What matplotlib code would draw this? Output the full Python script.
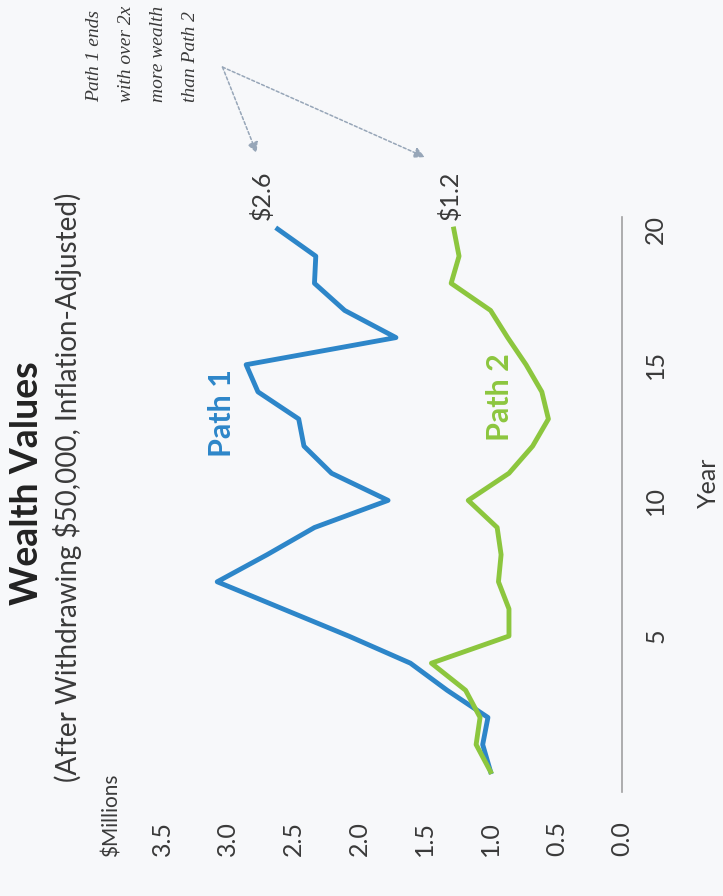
import matplotlib
matplotlib.use("Agg")
import matplotlib.pyplot as plt

plt.rcParams['font.family'] = ['Lato', 'DejaVu Sans']

years = list(range(21))
path1 = [1.00, 1.06, 1.02, 1.33, 1.61, 2.08, 2.58, 3.08, 2.70, 2.34, 1.78,
         2.21, 2.42, 2.46, 2.77, 2.86, 1.72, 2.11, 2.34, 2.33, 2.62]
path2 = [1.00, 1.11, 1.08, 1.19, 1.45, 0.86, 0.86, 0.94, 0.92, 0.95, 1.17,
         0.86, 0.68, 0.56, 0.61, 0.73, 0.87, 1.00, 1.30, 1.24, 1.28]
wealth_ticks = [0.0, 0.5, 1.0, 1.5, 2.0, 2.5, 3.0, 3.5]
year_ticks = [5, 10, 15, 20]
end_labels = ['$2.6', '$1.2']

blue = '#2d86c9'
green = '#8cc63e'
dark = '#3a3a3a'
bg = '#f7f8fa'

fig = plt.figure(figsize=(7.23, 8.96), dpi=100, facecolor=bg)
ax = fig.add_axes([0.2241, 0.116, 0.6362, 0.642], facecolor=bg)

# chart is drawn turned a quarter turn: wealth runs right->left, years bottom->top
ax.plot(path1, years, color=blue, lw=3.5)
ax.plot(path2, years, color=green, lw=3.5)

ax.set_xlim(3.5, 0)
ax.set_ylim(-0.75, 20.45)

for s in ['top', 'left', 'bottom']:
    ax.spines[s].set_visible(False)
ax.spines['right'].set_color('#a0a0a0')
ax.spines['right'].set_linewidth(1.2)

ax.set_xticks(wealth_ticks)
ax.set_xticklabels(['%.1f' % v for v in wealth_ticks])
ax.tick_params(axis='x', length=0, pad=21, labelrotation=90, labelsize=18,
               labelcolor=dark)

ax.yaxis.tick_right()
ax.set_yticks(year_ticks)
ax.tick_params(axis='y', length=0, pad=16, labelrotation=90, labelsize=18,
               labelcolor=dark)
for lbl in ax.get_yticklabels():
    lbl.set_va('center')

# series labels
ax.text(3.04, 13.2, 'Path 1', rotation=90, ha='center', va='center',
        fontsize=22, fontweight='bold', color=blue)
ax.text(0.93, 13.8, 'Path 2', rotation=90, ha='center', va='center',
        fontsize=22, fontweight='bold', color=green)

# end values
ax.text(path1[-1] + 0.12, 21.25, end_labels[0], rotation=90, ha='center',
        va='center', fontsize=18, color=dark)
ax.text(path2[-1] + 0.03, 21.25, end_labels[1], rotation=90, ha='center',
        va='center', fontsize=18, color=dark)

# side note with two arrows
ax.text(3.645, 24.68, 'Path 1 ends\nwith over 2x\nmore wealth\nthan Path 2',
        rotation=90, ha='center', va='bottom', multialignment='left',
        family='Liberation Serif', style='italic', fontsize=14,
        linespacing=2.15, color=dark)
arrow = dict(arrowstyle='-|>', color='#97a6b8', lw=1.1, ls=(0, (2, 1.5)),
             mutation_scale=16, shrinkA=0, shrinkB=0)
ax.annotate('', xy=(2.78, 22.8), xytext=(3.04, 25.97), arrowprops=arrow,
            annotation_clip=False)
ax.annotate('', xy=(1.50, 22.65), xytext=(3.04, 25.97), arrowprops=arrow,
            annotation_clip=False)

# titles and axis captions
fig.text(27 / 723, 1 - 483 / 896, 'Wealth Values', rotation=90, ha='center',
         va='center', fontsize=27, fontweight='bold', color='#222222')
fig.text(68 / 723, 1 - 487 / 896,
         '(After Withdrawing $50,000, Inflation-Adjusted)', rotation=90,
         ha='center', va='center', fontsize=20, color=dark)
fig.text(112 / 723, 1 - 857 / 896, '$Millions', rotation=90, ha='center',
         va='bottom', fontsize=15, color=dark)
fig.text(708 / 723, 1 - 483 / 896, 'Year', rotation=90, ha='center',
         va='center', fontsize=18, color=dark)

fig.savefig('out.png', dpi=100, facecolor=bg)
